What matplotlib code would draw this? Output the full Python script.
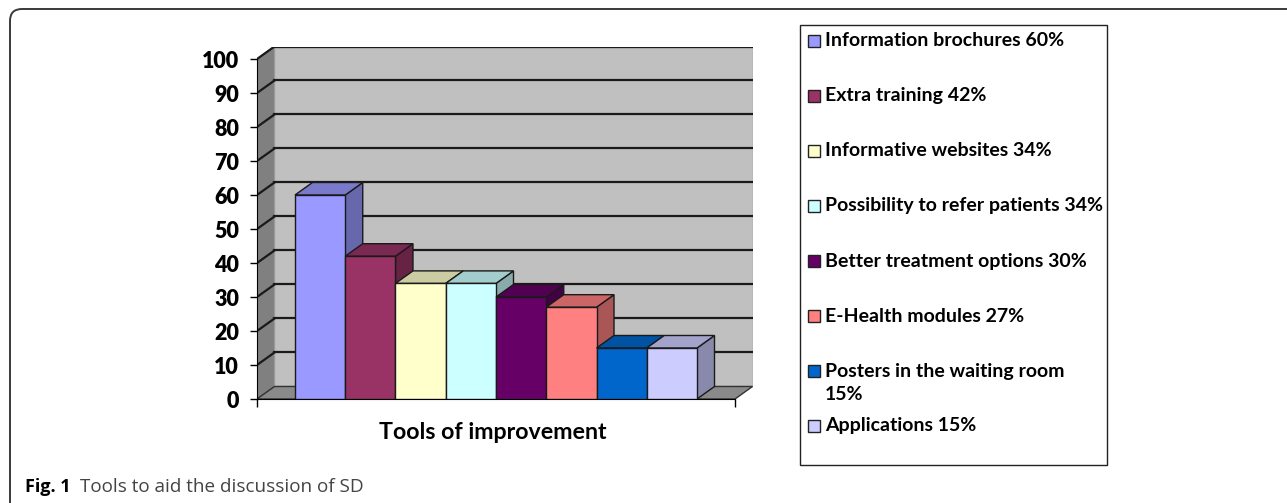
import matplotlib.pyplot as plt
from matplotlib.patches import Polygon, Rectangle, FancyBboxPatch
from matplotlib.colors import to_rgb

# data
tools = ["Information brochures 60%", "Extra training 42%", "Informative websites 34%",
         "Possibility to refer patients 34%", "Better treatment options 30%",
         "E-Health modules 27%", "Posters in the waiting room\n15%", "Applications 15%"]
values = [60, 42, 34, 34, 30, 27, 15, 15]
colors = ["#9999FF", "#993366", "#FFFFCC", "#CCFFFF", "#660066", "#FF8080", "#0066CC", "#CCCCFF"]
yticks = [0, 10, 20, 30, 40, 50, 60, 70, 80, 90, 100]

W, H = 1287, 503
DX, DY = 0.348, 3.68      # depth offset of the 3d box (x in bar widths, y in value units)
X0, X1 = -0.756, 8.756    # front floor edge

def px(x, y):
    return x / W, 1 - y / H

def shade(c, f):
    r, g, b = to_rgb(c)
    return (r * f, g * f, b * f)

plt.rcParams['font.family'] = ['Lato', 'DejaVu Sans']
fig = plt.figure(figsize=(W / 100, H / 100), dpi=100)

ax = fig.add_axes([257 / W, 104 / H, 495.5 / W, 352.5 / H])
ax.set_xlim(X0, X1 + DX)
ax.set_ylim(0, 100 + DY)
ax.patch.set_visible(False)

# walls and floor
ax.add_patch(Polygon([(X0, 0), (X0, 100), (X0 + DX, 100 + DY), (X0 + DX, DY)],
                     facecolor="#808080", edgecolor="#555555", lw=0.8, zorder=1))
ax.add_patch(Rectangle((X0 + DX, DY), X1 - X0, 100, facecolor="#C0C0C0",
                       edgecolor="#9a9a9a", lw=1, zorder=1))
ax.add_patch(Polygon([(X0, 0), (X1, 0), (X1 + DX, DY), (X0 + DX, DY)],
                     facecolor="#8a8a8a", edgecolor="#333333", lw=1, zorder=1))
for v in yticks[1:]:
    ax.plot([X0 + DX, X1 + DX], [v + DY, v + DY], color="#1a1a1a", lw=1.6, zorder=1.5)
    ax.plot([X0, X0 + DX], [v, v + DY], color="#1a1a1a", lw=1.6, zorder=1.5)

# bars, left to right so each one hides the side of the one before
for i, (v, c) in enumerate(zip(values, colors)):
    z = 3 + i
    ax.add_patch(Polygon([(i + 1, 0), (i + 1, v), (i + 1 + DX, v + DY), (i + 1 + DX, DY)],
                         facecolor=shade(c, 0.67), edgecolor="#1a1a1a", lw=1, zorder=z))
    ax.add_patch(Polygon([(i, v), (i + 1, v), (i + 1 + DX, v + DY), (i + DX, v + DY)],
                         facecolor=shade(c, 0.8), edgecolor="#1a1a1a", lw=1, zorder=z))
    ax.bar(i, v, width=1, align="edge", color=c, edgecolor="#1a1a1a", lw=1, zorder=z)

for s in ["top", "right"]:
    ax.spines[s].set_visible(False)
ax.spines["left"].set_bounds(0, 100)
ax.spines["bottom"].set_bounds(X0, X1)
ax.spines["left"].set_zorder(2)
ax.set_yticks(yticks)
ax.set_yticklabels([str(v) for v in yticks], fontsize=15.5, fontweight="heavy")
ax.set_xticks([X0, X1])
ax.set_xticklabels(["", ""])
ax.tick_params(axis="y", length=5, width=1, pad=8)
ax.tick_params(axis="x", length=6, width=1)
ax.set_xlabel("Tools of improvement", fontsize=16.7, fontweight="bold")
ax.xaxis.set_label_coords(0.476, -0.065)

# legend box
fig.add_artist(Rectangle(px(800, 465), 307 / W, 440 / H, transform=fig.transFigure,
                         facecolor="white", edgecolor="#222222", lw=1))
for i, (lab, c) in enumerate(zip(tools, colors)):
    yc = 41 + 55 * i
    fig.add_artist(Rectangle(px(808, yc + 6), 12 / W, 12 / H, transform=fig.transFigure,
                             facecolor=c, edgecolor="#222222", lw=1))
    fig.text(*px(825, yc - 8.5), lab, fontsize=14, fontweight="bold", va="top", ha="left",
             linespacing=1.45)

# caption and frame
fig.text(*px(25, 492), "Fig. 1", fontsize=13, fontweight="bold", family="Open Sans",
         va="baseline")
fig.text(*px(80, 492), "Tools to aid the discussion of SD", fontsize=13.6, family="Open Sans",
         va="baseline", color="#444444")
fig.add_artist(FancyBboxPatch((10 / 100, -0.3), 14, (503 - 9) / 100 + 0.3,
                              boxstyle="round,pad=0,rounding_size=0.12",
                              transform=fig.dpi_scale_trans, facecolor="none",
                              edgecolor="#3a3a3a", lw=1.4))

fig.savefig("out.png", dpi=100)
